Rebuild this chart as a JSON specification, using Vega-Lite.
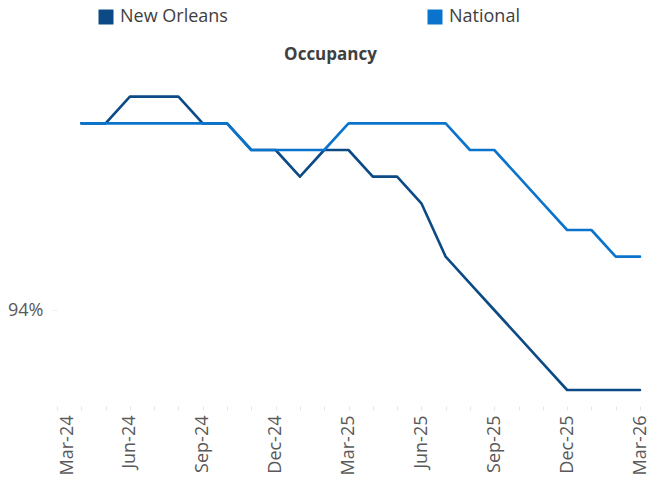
{
  "$schema": "https://vega.github.io/schema/vega-lite/v6.json",
  "width": 583,
  "height": 336,
  "autosize": {"type": "none"},
  "padding": {"left": 57, "top": 70, "right": 22, "bottom": 74},
  "background": "white",
  "title": {
    "text": "Occupancy",
    "font": "Open Sans",
    "fontSize": 17,
    "fontWeight": "bold",
    "color": "#404040",
    "anchor": "middle",
    "dx": -18,
    "baseline": "alphabetic",
    "offset": -69
  },
  "config": {
    "view": {"stroke": null},
    "font": "Open Sans"
  },
  "data": {
    "values": [
      {"month": "Apr-24", "series": "New Orleans", "value": 94.7},
      {"month": "May-24", "series": "New Orleans", "value": 94.7},
      {"month": "Jun-24", "series": "New Orleans", "value": 94.8},
      {"month": "Jul-24", "series": "New Orleans", "value": 94.8},
      {"month": "Aug-24", "series": "New Orleans", "value": 94.8},
      {"month": "Sep-24", "series": "New Orleans", "value": 94.7},
      {"month": "Oct-24", "series": "New Orleans", "value": 94.7},
      {"month": "Nov-24", "series": "New Orleans", "value": 94.6},
      {"month": "Dec-24", "series": "New Orleans", "value": 94.6},
      {"month": "Jan-25", "series": "New Orleans", "value": 94.5},
      {"month": "Feb-25", "series": "New Orleans", "value": 94.6},
      {"month": "Mar-25", "series": "New Orleans", "value": 94.6},
      {"month": "Apr-25", "series": "New Orleans", "value": 94.5},
      {"month": "May-25", "series": "New Orleans", "value": 94.5},
      {"month": "Jun-25", "series": "New Orleans", "value": 94.4},
      {"month": "Jul-25", "series": "New Orleans", "value": 94.2},
      {"month": "Aug-25", "series": "New Orleans", "value": 94.1},
      {"month": "Sep-25", "series": "New Orleans", "value": 94.0},
      {"month": "Oct-25", "series": "New Orleans", "value": 93.9},
      {"month": "Nov-25", "series": "New Orleans", "value": 93.8},
      {"month": "Dec-25", "series": "New Orleans", "value": 93.7},
      {"month": "Jan-26", "series": "New Orleans", "value": 93.7},
      {"month": "Feb-26", "series": "New Orleans", "value": 93.7},
      {"month": "Mar-26", "series": "New Orleans", "value": 93.7},
      {"month": "Apr-24", "series": "National", "value": 94.7},
      {"month": "May-24", "series": "National", "value": 94.7},
      {"month": "Jun-24", "series": "National", "value": 94.7},
      {"month": "Jul-24", "series": "National", "value": 94.7},
      {"month": "Aug-24", "series": "National", "value": 94.7},
      {"month": "Sep-24", "series": "National", "value": 94.7},
      {"month": "Oct-24", "series": "National", "value": 94.7},
      {"month": "Nov-24", "series": "National", "value": 94.6},
      {"month": "Dec-24", "series": "National", "value": 94.6},
      {"month": "Jan-25", "series": "National", "value": 94.6},
      {"month": "Feb-25", "series": "National", "value": 94.6},
      {"month": "Mar-25", "series": "National", "value": 94.7},
      {"month": "Apr-25", "series": "National", "value": 94.7},
      {"month": "May-25", "series": "National", "value": 94.7},
      {"month": "Jun-25", "series": "National", "value": 94.7},
      {"month": "Jul-25", "series": "National", "value": 94.7},
      {"month": "Aug-25", "series": "National", "value": 94.6},
      {"month": "Sep-25", "series": "National", "value": 94.6},
      {"month": "Oct-25", "series": "National", "value": 94.5},
      {"month": "Nov-25", "series": "National", "value": 94.4},
      {"month": "Dec-25", "series": "National", "value": 94.3},
      {"month": "Jan-26", "series": "National", "value": 94.3},
      {"month": "Feb-26", "series": "National", "value": 94.2},
      {"month": "Mar-26", "series": "National", "value": 94.2}
    ]
  },
  "mark": {"type": "line", "strokeWidth": 2.6, "strokeCap": "round", "strokeJoin": "round"},
  "encoding": {
    "x": {
      "field": "month",
      "type": "ordinal",
      "sort": null,
      "scale": {
        "type": "point",
        "padding": 0,
        "domain": ["Mar-24","Apr-24","May-24","Jun-24","Jul-24","Aug-24","Sep-24","Oct-24","Nov-24","Dec-24","Jan-25","Feb-25","Mar-25","Apr-25","May-25","Jun-25","Jul-25","Aug-25","Sep-25","Oct-25","Nov-25","Dec-25","Jan-26","Feb-26","Mar-26"]
      },
      "axis": {
        "title": null,
        "domain": false,
        "ticks": true,
        "tickSize": 4,
        "tickColor": "#e6e6e6",
        "tickWidth": 1,
        "grid": false,
        "labelAngle": -90,
        "labelAlign": "right",
        "labelBaseline": "middle",
        "labelFont": "Open Sans",
        "labelFontSize": 18,
        "labelColor": "#595959",
        "labelPadding": 5,
        "labelOverlap": false,
        "labelOffset": {"condition": {"test": "datum.value == 'Mar-24'", "value": 10}, "value": 0},
        "labelExpr": "indexof(['Mar','Jun','Sep','Dec'], slice(datum.value, 0, 3)) >= 0 ? datum.value : ''"
      }
    },
    "y": {
      "field": "value",
      "type": "quantitative",
      "scale": {"domain": [93.64, 94.9], "nice": false, "zero": false},
      "axis": {
        "title": null,
        "values": [94],
        "labelExpr": "datum.value + '%'",
        "domain": false,
        "grid": false,
        "ticks": true,
        "tickSize": 5,
        "tickColor": "#eeeeee",
        "labelPadding": 9,
        "labelFont": "Open Sans",
        "labelFontSize": 18,
        "labelColor": "#595959"
      }
    },
    "color": {
      "field": "series",
      "type": "nominal",
      "scale": {"domain": ["New Orleans", "National"], "range": ["#0B4A84", "#0A74CC"]},
      "legend": {
        "title": null,
        "orient": "none",
        "legendX": 40,
        "legendY": -62,
        "direction": "horizontal",
        "columns": 2,
        "columnPadding": 198,
        "symbolType": "square",
        "symbolSize": 225,
        "symbolStrokeWidth": 0,
        "symbolOpacity": 1,
        "labelFont": "Open Sans",
        "labelFontSize": 18,
        "labelColor": "#404040",
        "labelOffset": 5,
        "labelLimit": 300,
        "encode": {
          "symbols": {
            "update": {
              "fill": {"scale": "color", "field": "value"},
              "fillOpacity": {"value": 1},
              "strokeWidth": {"value": 0}
            }
          }
        }
      }
    }
  }
}
